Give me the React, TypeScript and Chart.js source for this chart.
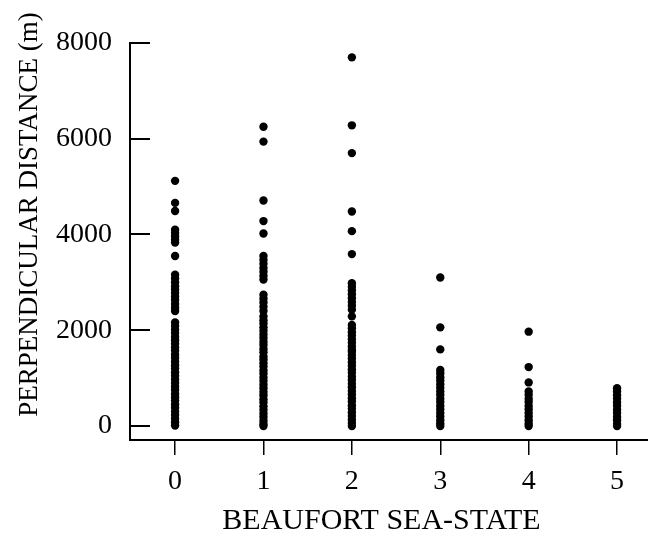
import { useEffect, useRef } from "react";
import { Chart, registerables } from "chart.js";

Chart.register(...registerables);

// Beaufort sea-state categories and axis ticks
const SEA_STATES = [0, 1, 2, 3, 4, 5];
const X_TICKS = [0, 1, 2, 3, 4, 5];
const Y_TICKS = [0, 2000, 4000, 6000, 8000];

// Perpendicular distances (m) read per sea-state column
const DIST_SEA0 = [
  5120, 4660, 4490, 4100, 4030, 3960, 3890, 3830, 3550, 3160, 3080, 3000, 2920, 2850, 2780,
  2700, 2630, 2550, 2470, 2400, 2160, 2090, 2010, 1940, 1860, 1790, 1720, 1640, 1570, 1490,
  1420, 1340, 1270, 1200, 1120, 1050, 970, 900, 820, 750, 670, 600, 530, 450, 380, 300, 230,
  150, 80, 10,
];
const DIST_SEA1 = [
  6250, 5940, 4710, 4280, 4020, 3550, 3470, 3390, 3300, 3220, 3140, 3060, 2740, 2660, 2580,
  2490, 2400, 2290, 2210, 2140, 2060, 1990, 1910, 1840, 1760, 1690, 1610, 1540, 1450, 1390,
  1310, 1240, 1160, 1090, 1010, 940, 860, 790, 710, 640, 560, 490, 410, 340, 260, 190, 110,
  40, 0,
];
const DIST_SEA2 = [
  7700, 6280, 5700, 4480, 4070, 3590, 2980, 2910, 2830, 2750, 2670, 2590, 2510, 2430, 2290,
  2110, 2040, 1960, 1890, 1810, 1740, 1660, 1590, 1550, 1480, 1410, 1330, 1260, 1180, 1110,
  1030, 960, 880, 810, 730, 660, 580, 510, 430, 360, 280, 210, 130, 60, 0,
];
const DIST_SEA3 = [
  3100, 2060, 1600, 1170, 1100, 1020, 950, 870, 800, 720, 650, 570, 500, 420, 350, 270, 200,
  120, 50, 0,
];
const DIST_SEA4 = [1970, 1230, 910, 720, 650, 570, 500, 420, 350, 270, 200, 120, 50, 0];
const DIST_SEA5 = [790, 720, 640, 570, 490, 420, 340, 270, 190, 120, 40, 0];

const DISTANCES = [DIST_SEA0, DIST_SEA1, DIST_SEA2, DIST_SEA3, DIST_SEA4, DIST_SEA5];

const X_TITLE = "BEAUFORT SEA-STATE  ";
const Y_TITLE = "        PERPENDICULAR DISTANCE (m)";

const FONT = "'Liberation Serif', 'Times New Roman', serif";

const yInnerTicks = {
  id: "yInnerTicks",
  afterDraw(chart: any) {
    const y = chart.scales.y;
    const ctx = chart.ctx;
    const left = chart.chartArea.left;
    ctx.save();
    ctx.strokeStyle = "#000";
    ctx.lineWidth = 2;
    y.ticks.forEach((t: any) => {
      const py = Math.round(y.getPixelForValue(t.value));
      ctx.beginPath();
      ctx.moveTo(left, py);
      ctx.lineTo(left + 20, py);
      ctx.stroke();
    });
    ctx.restore();
  },
};

export default function App() {
  const canvasRef = useRef<HTMLCanvasElement | null>(null);

  useEffect(() => {
    if (!canvasRef.current) return;
    const points = SEA_STATES.flatMap((s, i) => DISTANCES[i].map((d) => ({ x: s, y: d })));
    const chart = new Chart(canvasRef.current, {
      type: "scatter",
      data: {
        datasets: [
          {
            data: points,
            pointRadius: 4.2,
            pointBackgroundColor: "#000",
            pointBorderWidth: 0,
            showLine: false,
          },
        ],
      },
      plugins: [yInnerTicks],
      options: {
        animation: false,
        responsive: false,
        layout: { autoPadding: false, padding: { top: 43, left: 0, right: 0, bottom: 0 } },
        plugins: {
          legend: { display: false },
          tooltip: { enabled: false },
        },
        scales: {
          x: {
            type: "linear",
            min: -0.51,
            max: 5.35,
            afterBuildTicks: (s: any) => {
              s.ticks = X_TICKS.map((v) => ({ value: v }));
            },
            afterFit: (s: any) => {
              s.height = 96;
            },
            ticks: {
              color: "#000",
              font: { family: FONT, size: 28 },
              padding: 10,
              maxRotation: 0,
              callback: (v: any) => String(v),
            },
            grid: {
              display: true,
              drawOnChartArea: false,
              drawTicks: true,
              tickLength: 15,
              color: "#000",
              lineWidth: 1.5,
            },
            border: { display: true, color: "#000", width: 2 },
            title: {
              display: true,
              text: X_TITLE,
              color: "#000",
              font: { family: FONT, size: 30, lineHeight: 1 },
              padding: { top: 0, bottom: 0 },
            },
          },
          y: {
            type: "linear",
            min: -293,
            max: 8000,
            afterBuildTicks: (s: any) => {
              s.ticks = Y_TICKS.map((v) => ({ value: v }));
            },
            afterFit: (s: any) => {
              s.width = 130;
            },
            ticks: {
              color: "#000",
              font: { family: FONT, size: 28 },
              padding: 18,
              callback: (v: any) => String(v),
            },
            grid: { display: false, drawTicks: false },
            border: { display: true, color: "#000", width: 2 },
            title: {
              display: true,
              text: Y_TITLE,
              color: "#000",
              font: { family: FONT, size: 27, lineHeight: 1 },
              padding: { top: 16.5, bottom: 0 },
            },
          },
        },
      },
    } as any);
    return () => chart.destroy();
  }, []);

  return (
    <div style={{ position: "absolute", left: 0, top: 0, width: 648, height: 536, background: "#fff" }}>
      <canvas ref={canvasRef} width={648} height={536} style={{ display: "block" }} />
    </div>
  );
}
